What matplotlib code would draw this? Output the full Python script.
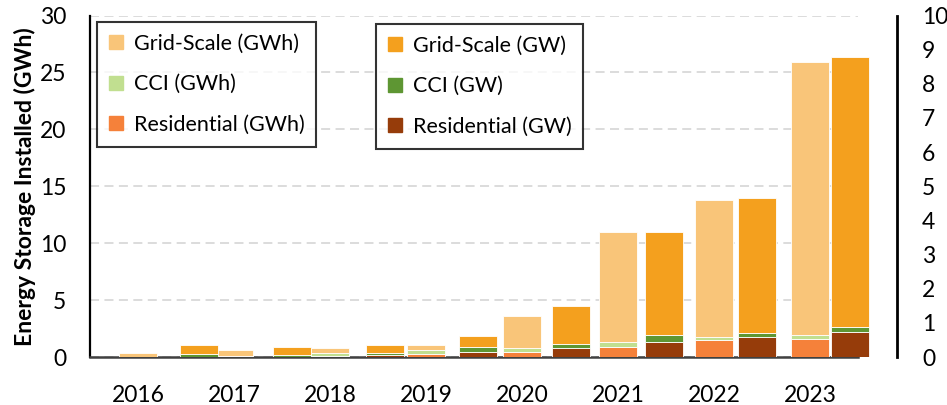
import numpy as np
import matplotlib.pyplot as plt
from matplotlib.patches import Patch

plt.rcParams['font.family'] = ['Lato', 'DejaVu Sans']

years = ['2016', '2017', '2018', '2019', '2020', '2021', '2022', '2023']

# energy installed, GWh (left axis)
res_gwh = [0.01, 0.02, 0.10, 0.26, 0.47, 0.90, 1.49, 1.58]
cci_gwh = [0.01, 0.08, 0.25, 0.33, 0.33, 0.44, 0.29, 0.35]
grid_gwh = [0.33, 0.52, 0.41, 0.46, 2.80, 9.64, 12.01, 24.00]

# power installed, GW (right axis)
res_gw = [0.00, 0.01, 0.05, 0.155, 0.26, 0.45, 0.58, 0.74]
cci_gw = [0.08, 0.06, 0.08, 0.15, 0.12, 0.18, 0.135, 0.13]
grid_gw = [0.26, 0.22, 0.23, 0.31, 1.11, 3.04, 3.95, 7.92]

c_gwh = ['#F9C579', '#C1DF90', '#F5813A']
c_gw = ['#F4A01E', '#5E9633', '#963C0A']

W, H = 947, 405
fig = plt.figure(figsize=(W / 100, H / 100), dpi=100)
bot = (H - 357) / H
hgt = (357 - 15.5) / H
ax = fig.add_axes([90 / W, bot, (858 - 90) / W, hgt])
ax2 = fig.add_axes([90 / W, bot, (897 - 90) / W, hgt])
ax2.patch.set_alpha(0)

x = np.arange(len(years))

# GWh bars on the primary axes
b = np.zeros(len(years))
for vals, col in zip([res_gwh, cci_gwh, grid_gwh], [c_gwh[2], c_gwh[1], c_gwh[0]]):
    ax.bar(x, vals, 0.40, bottom=b, color=col, edgecolor='white', linewidth=0.6, zorder=3)
    b += np.array(vals)

# GW bars on the secondary axes (own horizontal scale)
b = np.zeros(len(years))
for vals, col in zip([res_gw, cci_gw, grid_gw], [c_gw[2], c_gw[1], c_gw[0]]):
    ax2.bar(x, vals, 0.40, bottom=b, color=col, edgecolor='white', linewidth=0.6, zorder=3)
    b += np.array(vals)

ax.set_xlim(-0.5, 7.5)
ax.set_ylim(0, 30)
ax.set_yticks(range(0, 31, 5))
ax.set_xticks(x)
ax.set_xticklabels(years)
ax.tick_params(axis='both', length=0, labelsize=16.5, colors='black')
ax.tick_params(axis='y', pad=17)
ax.tick_params(axis='x', pad=20)
ax.yaxis.grid(True, color='#D9D9D9', linewidth=1.3, linestyle=(0, (5, 3)), zorder=0)
ax.set_axisbelow(True)
for s in ['top', 'right']:
    ax.spines[s].set_visible(False)
ax.spines['left'].set_linewidth(1.6)
ax.spines['bottom'].set_linewidth(1.8)
ax.spines['bottom'].set_color('#404040')
ax.set_ylabel('Energy Storage Installed (GWh)', fontsize=16.5, fontweight='bold', labelpad=3)

ax2.set_xlim(-1.172, 7.505)
ax2.set_ylim(0, 10)
ax2.set_xticks([])
ax2.yaxis.tick_right()
ax2.set_yticks(range(0, 11))
ax2.tick_params(axis='y', length=0, labelsize=16.5, pad=18)
for s in ['top', 'left', 'bottom']:
    ax2.spines[s].set_visible(False)
ax2.spines['right'].set_linewidth(2)

labels_gwh = ['Grid-Scale (GWh)', 'CCI (GWh)', 'Residential (GWh)']
labels_gw = ['Grid-Scale (GW)', 'CCI (GW)', 'Residential (GW)']
h1 = [Patch(color=c) for c in c_gwh]
h2 = [Patch(color=c) for c in c_gw]
leg_kw = dict(loc='upper left', fontsize=15.5, frameon=True, fancybox=False,
              edgecolor='black', handlelength=0.65, handleheight=0.65,
              handletextpad=0.5, labelspacing=0.95, borderpad=0.55,
              borderaxespad=0)
l1 = fig.legend(h1, labels_gwh, bbox_to_anchor=(97 / W, 1 - 22 / H), **leg_kw)
l2 = fig.legend(h2, labels_gw, bbox_to_anchor=(376 / W, 1 - 24 / H), **leg_kw)
for l in (l1, l2):
    l.get_frame().set_linewidth(1.5)
    l.set_zorder(10)

fig.savefig('out.png', dpi=100)
